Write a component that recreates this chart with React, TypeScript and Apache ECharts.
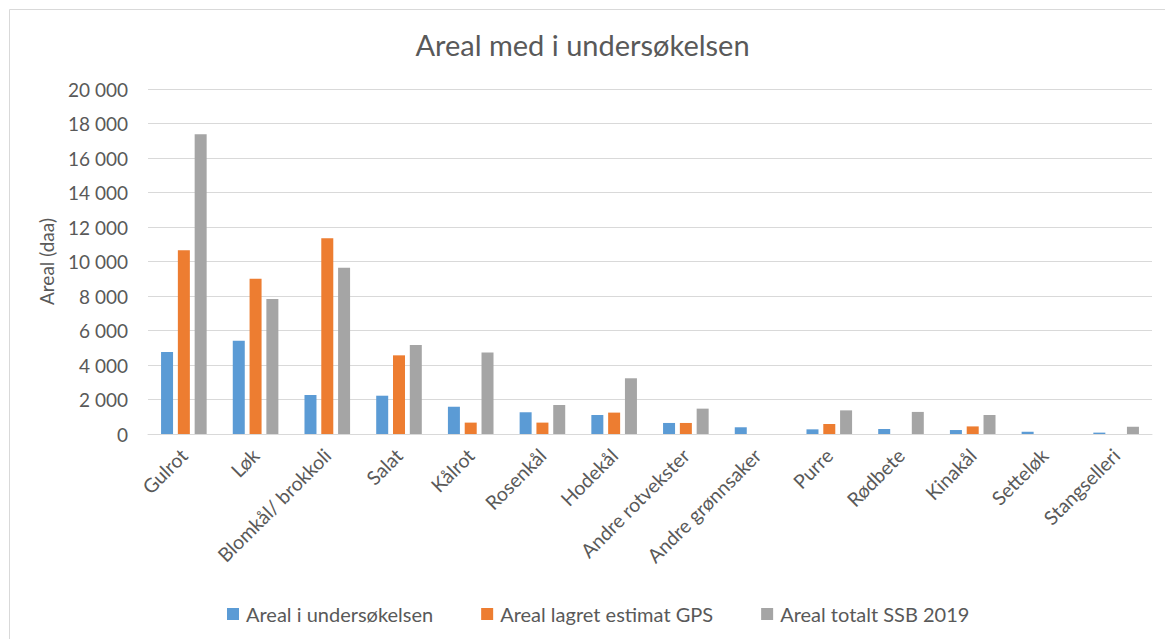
import React, { useEffect, useRef } from "react";
import * as echarts from "echarts";

const categories = [
  "Gulrot",
  "Løk",
  "Blomkål/ brokkoli",
  "Salat",
  "Kålrot",
  "Rosenkål",
  "Hodekål",
  "Andre rotvekster",
  "Andre grønnsaker",
  "Purre",
  "Rødbete",
  "Kinakål",
  "Setteløk",
  "Stangselleri",
];

const arealUndersokelsen = [4750, 5400, 2260, 2220, 1580, 1260, 1100, 640, 390, 270, 290, 230, 130, 80];
const arealGps = [10650, 9000, 11350, 4560, 660, 660, 1240, 640, 0, 580, 0, 440, 0, 0];
const arealSsb = [17380, 7830, 9640, 5160, 4720, 1680, 3230, 1470, 0, 1370, 1280, 1100, 0, 420];

const seriesNames = ["Areal i undersøkelsen", "Areal lagret estimat GPS", "Areal totalt SSB 2019"];
const seriesColors = ["#5B9BD5", "#ED7D31", "#A5A5A5"];

const FONT = "Lato, 'Open Sans', sans-serif";
const TEXT = "#595959";

function fmt(v: number): string {
  return String(v).replace(/\B(?=(\d{3})+(?!\d))/g, " ");
}

export default function App() {
  const ref = useRef<HTMLDivElement>(null);
  useEffect(() => {
    if (!ref.current) return;
    const chart = echarts.init(ref.current, null, { renderer: "svg" });
    const data = [arealUndersokelsen, arealGps, arealSsb];
    chart.setOption({
      animation: false,
      backgroundColor: "#ffffff",
      textStyle: { fontFamily: FONT },
      graphic: [
        {
          type: "rect",
          shape: { x: 9.5, y: 9.5, width: 1180, height: 660 },
          style: { fill: "none", stroke: "#d9d9d9", lineWidth: 1 },
          silent: true,
        },
      ],
      title: {
        text: "Areal med i undersøkelsen",
        left: "center",
        top: 25,
        textStyle: { fontFamily: FONT, fontSize: 29, fontWeight: "normal", color: TEXT },
      },
      legend: {
        bottom: 10,
        left: 222,
        itemWidth: 12,
        itemHeight: 12,
        itemGap: 48,
        icon: "rect",
        textStyle: { fontFamily: FONT, fontSize: 20, color: TEXT, padding: [0, 0, 0, 2] },
        data: seriesNames,
      },
      grid: { left: 148, right: 13, top: 89, bottom: 205, containLabel: false },
      xAxis: {
        type: "category",
        data: categories,
        axisLine: { lineStyle: { color: "#d9d9d9" } },
        axisTick: { show: false },
        axisLabel: {
          rotate: 45,
          interval: 0,
          fontFamily: FONT,
          fontSize: 19.5,
          color: TEXT,
          margin: 18,
        },
      },
      yAxis: {
        type: "value",
        min: 0,
        max: 20000,
        interval: 2000,
        name: "Areal (daa)",
        nameLocation: "middle",
        nameGap: 92,
        nameTextStyle: { fontFamily: FONT, fontSize: 19, color: TEXT },
        axisLine: { show: false },
        axisTick: { show: false },
        splitLine: { lineStyle: { color: "#d9d9d9" } },
        axisLabel: {
          fontFamily: FONT,
          fontSize: 19,
          color: TEXT,
          margin: 20,
          formatter: (v: number) => fmt(v),
        },
      },
      series: seriesNames.map((name, i) => ({
        name,
        type: "bar",
        data: data[i],
        barWidth: 12,
        barGap: "40%",
        itemStyle: { color: seriesColors[i] },
      })),
    });
    return () => chart.dispose();
  }, []);
  return (
    <div
      ref={ref}
      style={{ position: "fixed", left: 0, top: 0, width: 1165, height: 639 }}
    />
  );
}
